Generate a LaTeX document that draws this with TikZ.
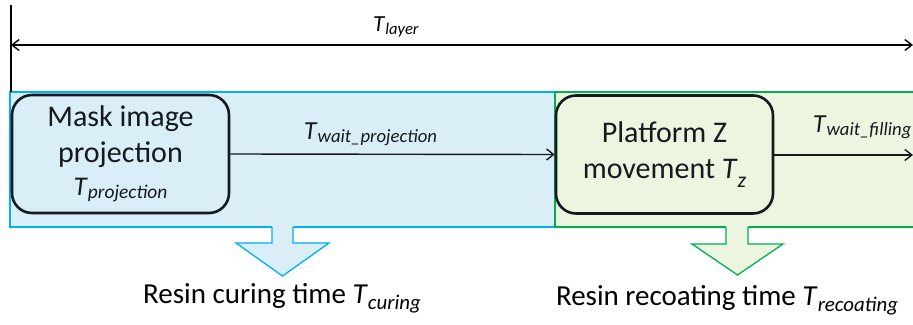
\documentclass[tikz,border=0pt]{standalone}
\usepackage{fontspec}
\setmainfont{Carlito}
\usetikzlibrary{positioning,arrows.meta,calc}
\definecolor{curefill}{HTML}{DAEEF8}
\definecolor{cureline}{HTML}{00B0F0}
\definecolor{coatfill}{HTML}{EBF5DF}
\definecolor{coatline}{HTML}{00B050}
\definecolor{boxline}{HTML}{151A1E}
\newcommand{\tsub}[2][0.1em]{\textit{T}\raisebox{-#1}{\scalebox{0.72}{\textit{#2}}}}

\begin{document}
\begin{tikzpicture}[x=1pt,y=-1pt, >={Straight Barb[length=7pt,width=11pt]},
    phase/.style={rounded corners=20pt,draw=boxline,line width=2.6pt,minimum width=217pt,minimum height=118pt,align=center,font=\fontsize{30}{36}\selectfont,text=boxline},
    zone/.style={line width=1.3pt},
    flow/.style={->,line width=1.4pt,draw=boxline},
    tlabel/.style={font=\fontsize{26}{30}\selectfont,text=boxline},
    bigarrow/.style={line width=1.3pt}]
  \useasboundingbox (0,0) rectangle (913,324);

  \fill[curefill] (10,92) rectangle (555,227);
  \fill[coatfill] (555,92) rectangle (920,227);
  \draw[zone,cureline] (10,92) rectangle (555,227);
  \draw[zone,coatline] (555,92) rectangle (920,227);

  \coordinate (top) at (11,5);
  \coordinate (left) at (11,45);
  \coordinate (right) at (913,45);
  \coordinate (zone) at (11,92);
  \coordinate (edge) at (913,155);
  \draw[line width=1.5pt] (top) -- (zone);
  \draw[<->,line width=1.4pt] (left) -- (right) node[midway,above=4pt,xshift=-66pt,font=\fontsize{23}{26}\selectfont] (layer) {\tsub{layer}};

  \node[phase,fill=curefill] (proj) at (120.5,154) {Mask image\\projection\\[-3pt]{\fontsize{27}{27}\selectfont\tsub[0.12em]{projection}}};
  \node[phase,fill=coatfill] (move) at (664.5,154.5) {Platform Z\\movement \tsub[0.3em]{z}};

  \draw[flow] (proj.east) -- (move.west) node[midway,above=5pt,xshift=-22pt,tlabel] (waitp) {\tsub{wait\_projection}};
  \draw[flow] (move.east |- edge) -- (edge);
  \node[tlabel,anchor=west] (waitf) at ($(move.east |- edge)+(35,-28)$) {\tsub{wait\_filling}};

  \fill[curefill] (272,226) -- (272,243) -- (236,243) -- (282.5,276) -- (329,243) -- (293,243) -- (293,226) -- cycle;
  \draw[bigarrow,cureline] (272,227) -- (272,243) -- (236,243) -- (282.5,276) -- (329,243) -- (293,243) -- (293,227);
  \fill[coatfill] (726,226) -- (726,244) -- (692,244) -- (737.5,275) -- (783,244) -- (748,244) -- (748,226) -- cycle;
  \draw[bigarrow,coatline] (726,227) -- (726,244) -- (692,244) -- (737.5,275) -- (783,244) -- (748,244) -- (748,227);

  \node[font=\fontsize{29}{32}\selectfont] (curing) at (282,298) {Resin curing time \tsub[0.2em]{curing}};
  \node[font=\fontsize{29}{32}\selectfont] (coating) at (727,300) {Resin recoating time \tsub[0.2em]{recoating}};
\end{tikzpicture}
\end{document}
